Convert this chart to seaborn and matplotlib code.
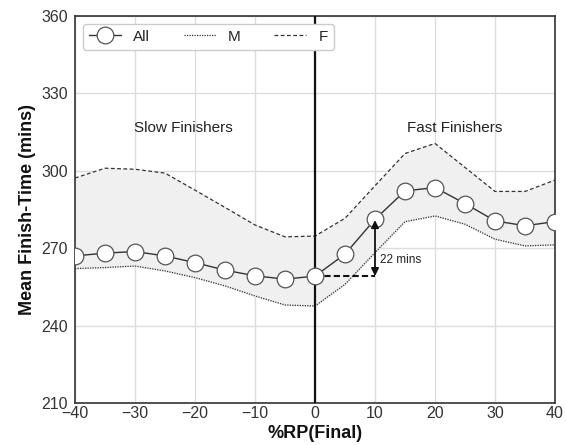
import matplotlib
matplotlib.use("Agg")
import matplotlib.pyplot as plt
import seaborn as sns
import numpy as np
import pandas as pd

rp = [-40, -35, -30, -25, -20, -15, -10, -5, 0, 5, 10, 15, 20, 25, 30, 35, 40]
all_vals = [267.0, 268.1, 268.7, 267.0, 264.4, 261.5, 259.3, 258.0, 259.2, 267.7, 281.2, 292.2, 293.5, 287.3, 280.6, 278.7, 280.3]
m_vals = [262.1, 262.5, 263.1, 261.2, 258.6, 255.4, 251.5, 248.0, 247.6, 256.0, 268.3, 280.3, 282.5, 279.3, 273.5, 270.9, 271.3]
f_vals = [297.2, 301.0, 300.6, 299.1, 292.5, 285.8, 279.0, 274.4, 274.7, 281.6, 294.2, 306.7, 310.6, 301.3, 292.0, 292.0, 296.4]
xticks = [-40, -30, -20, -10, 0, 10, 20, 30, 40]
yticks = [210, 240, 270, 300, 330, 360]

df = pd.DataFrame({"rp": rp, "All": all_vals, "M": m_vals, "F": f_vals})

sns.set_theme(style="whitegrid")
plt.rcParams['font.family'] = ['Liberation Sans', 'DejaVu Sans']

fig = plt.figure(figsize=(5.66, 4.45), dpi=100)
ax = fig.add_axes([75/566, 1-403/445, 480/566, 387/445])

ax.fill_between(df["rp"], df["M"], df["F"], color="#f0f0f0", zorder=1)
sns.lineplot(data=df, x="rp", y="M", ax=ax, color="#333333", lw=0.9, ls=(0, (1, 1)), label="M", zorder=2)
sns.lineplot(data=df, x="rp", y="F", ax=ax, color="#333333", lw=0.9, ls=(0, (3, 2)), label="F", zorder=2)
sns.lineplot(data=df, x="rp", y="All", ax=ax, color="#333333", lw=1.0, marker="o", markersize=12,
             markerfacecolor="white", markeredgecolor="#555555", markeredgewidth=0.9, label="All", zorder=4)

ax.axvline(0, color="#111111", lw=1.6, zorder=3)

# annotation: difference between 0 and 10
y0 = all_vals[rp.index(0)]
y10 = all_vals[rp.index(10)]
ax.plot([0, 10], [y0, y0], color="#111111", lw=1.5, ls=(0, (3, 1.5)), zorder=3)
ax.annotate("", xy=(10, y10 - 0.3), xytext=(10, y0), zorder=5,
            arrowprops=dict(arrowstyle="<|-|>", color="#111111", lw=1.3, mutation_scale=11, shrinkA=0, shrinkB=0))
ax.text(10.8, 265.5, "22 mins", fontsize=8.5, color="#222222", va="center", ha="left")

ax.text(-22, 316.5, "Slow Finishers", fontsize=11, color="#222222", ha="center", va="center")
ax.text(23.3, 316.5, "Fast Finishers", fontsize=11, color="#222222", ha="center", va="center")

ax.set_xlim(-40, 40)
ax.set_ylim(210, 360)
ax.set_xticks(xticks)
ax.set_yticks(yticks)
ax.set_xticklabels([str(t).replace("-", "\u2212") for t in xticks])
ax.tick_params(axis="x", labelsize=11.5, labelcolor="#333333", pad=2, length=0)
ax.tick_params(axis="y", labelsize=11.5, labelcolor="#333333", pad=5, length=0)
ax.set_xlabel("%RP(Final)", fontsize=13, fontweight="bold", color="#111111", labelpad=3)
ax.set_ylabel("Mean Finish-Time (mins)", fontsize=13, fontweight="bold", color="#111111", labelpad=4)
ax.grid(True, color="#dddddd", lw=1.0)
for s in ax.spines.values():
    s.set_color("#333333")
    s.set_linewidth(1.2)

handles, labels = ax.get_legend_handles_labels()
order = [labels.index("All"), labels.index("M"), labels.index("F")]
leg = ax.legend([handles[i] for i in order], [labels[i] for i in order], loc="upper left", ncol=3,
                fontsize=11, frameon=True, handlelength=2.1, handletextpad=0.8, columnspacing=2.2,
                borderaxespad=0.5, fancybox=True, edgecolor="#cccccc", framealpha=1)

fig.savefig("out.png", dpi=100)
